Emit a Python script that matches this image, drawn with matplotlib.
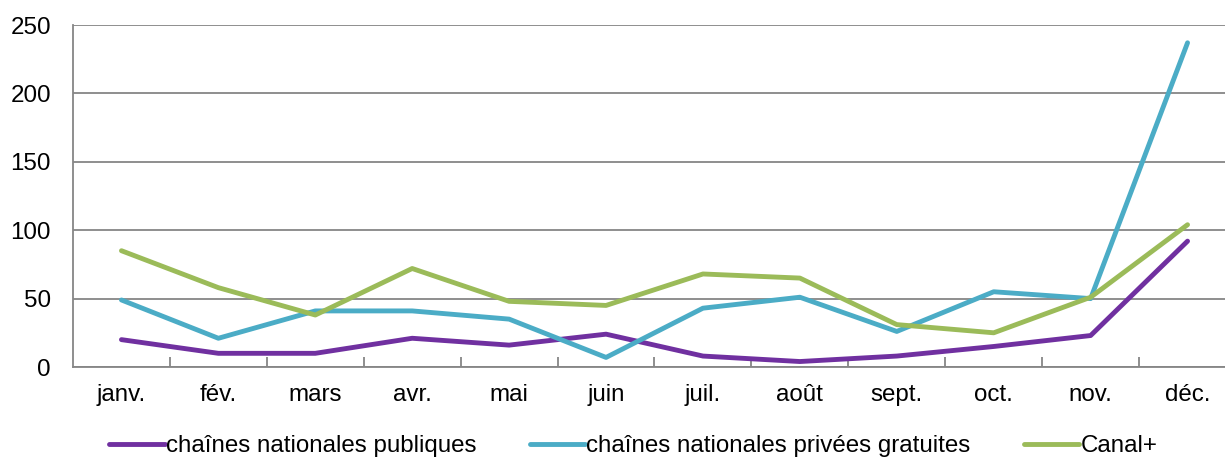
import matplotlib
matplotlib.use("Agg")
import matplotlib.pyplot as plt
from matplotlib.ticker import FixedLocator, NullFormatter

plt.rcParams["font.family"] = ["Liberation Sans", "DejaVu Sans"]

months = ["janv.", "fév.", "mars", "avr.", "mai", "juin",
          "juil.", "août", "sept.", "oct.", "nov.", "déc."]
publiques = [20, 10, 10, 21, 16, 24, 8, 4, 8, 15, 23, 92]
privees = [49, 21, 41, 41, 35, 7, 43, 51, 26, 55, 50, 237]
canal = [85, 58, 38, 72, 48, 45, 68, 65, 31, 25, 51, 104]

series = [
    ("chaînes nationales publiques", publiques, "#7030A0"),
    ("chaînes nationales privées gratuites", privees, "#4BACC6"),
    ("Canal+", canal, "#9BBB59"),
]

fig = plt.figure(figsize=(12.25, 4.57), dpi=100)
ax = fig.add_axes([73 / 1225, 1 - 367 / 457, 1163 / 1225, (367 - 25) / 457])

x = list(range(len(months)))
for label, vals, color in series:
    ax.plot(x, vals, color=color, lw=3.5, label=label,
            solid_capstyle="round", solid_joinstyle="round")

ax.set_xlim(-0.5, len(months) - 0.5)
ax.set_ylim(0, 250)
ax.set_yticks(range(0, 251, 50))
ax.yaxis.grid(True, color="#868686", lw=1.3)
ax.set_axisbelow(True)

ax.set_xticks(x)
ax.set_xticklabels(months)
ax.xaxis.set_minor_locator(FixedLocator([i + 0.5 for i in range(len(months) - 1)]))
ax.xaxis.set_minor_formatter(NullFormatter())
ax.tick_params(axis="x", which="major", length=0, pad=12, labelsize=17.4)
ax.tick_params(axis="x", which="minor", direction="in", length=7,
               width=1.3, color="#868686")
ax.tick_params(axis="y", length=0, pad=16, labelsize=17.4)

for side in ("top", "right"):
    ax.spines[side].set_visible(False)
for side in ("left", "bottom"):
    ax.spines[side].set_color("#868686")
    ax.spines[side].set_linewidth(1.3)

fig.legend(loc="center", bbox_to_anchor=(0.517, 1 - 446 / 457), ncol=3,
           frameon=False, fontsize=17.4, handlelength=2.3, handletextpad=0.05,
           columnspacing=2.2)

fig.savefig("out.png", dpi=100)
